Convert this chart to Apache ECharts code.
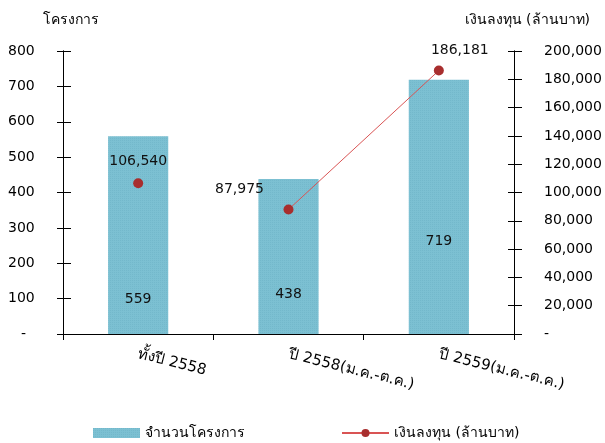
<!DOCTYPE html>
<html><head><meta charset="utf-8">
<script src="https://cdn.jsdelivr.net/npm/echarts@6/dist/echarts.min.js"></script>
<style>html,body{margin:0;padding:0;background:#fff}#c{width:605px;height:443px}</style>
</head><body><div id="c"></div>
<script>
const categories = ['ทั้งปี 2558', 'ปี 2558(ม.ค.-ต.ค.)', 'ปี 2559(ม.ค.-ต.ค.)'];
const projects = [559, 438, 719];
const investment = [106540, 87975, 186181];
const leftTicks = [0, 100, 200, 300, 400, 500, 600, 700, 800];
const rightTicks = [0, 20000, 40000, 60000, 80000, 100000, 120000, 140000, 160000, 180000, 200000];
const barName = 'จำนวนโครงการ';
const lineName = 'เงินลงทุน (ล้านบาท)';

const FONT = 'Tahoma, "DejaVu Sans", sans-serif';
const fmt = v => v === 0 ? '{d|-}' : v.toLocaleString('en-US');
const barLabelDist = [28, 33, 86];
const lineLabelCfg = [
  {position: 'top', offset: [0, 0]},
  {position: 'inside', offset: [-49, -20]},
  {position: 'inside', offset: [21, -20]}
];
const txt = {color: '#000', fontSize: 14, fontFamily: FONT};

const chart = echarts.init(document.getElementById('c'));
const yBase = (min, max, interval, pos) => ({
  type: 'value', position: pos, min, max, interval,
  splitLine: {show: false},
  axisLine: {show: true, lineStyle: {color: '#000', width: 1}},
});
const lineLabel = i => ({show: true, position: lineLabelCfg[i].position, offset: lineLabelCfg[i].offset, distance: 10,
  formatter: p => p.value.toLocaleString('en-US'), color: '#111', fontSize: 14, fontFamily: FONT});
// the reference draws no segment between the first and second points
const connected = investment.map((v, i) => i === 0 ? null : {value: v, label: lineLabel(i)});
const isolated = investment.map((v, i) => i === 0 ? {value: v, label: lineLabel(i)} : null);
const lineCommon = {
  name: lineName, type: 'line', yAxisIndex: 1,
  symbol: 'circle', symbolSize: 10, connectNulls: false,
  lineStyle: {color: '#d95454', width: 1},
  itemStyle: {color: '#a82e2e'}
};
chart.setOption({
  animation: false,
  textStyle: {fontFamily: FONT},
  grid: {left: 63, right: 91, top: 51, bottom: 109, containLabel: false},
  legend: {
    left: 88, top: 421, itemGap: 96, itemWidth: 47, itemHeight: 10,
    textStyle: Object.assign({}, txt),
    data: [{name: barName, icon: 'rect'}, lineName]
  },
  xAxis: {
    type: 'category', data: categories, boundaryGap: true,
    axisLine: {lineStyle: {color: '#000', width: 1}},
    axisTick: {show: true, length: 6, lineStyle: {color: '#000'}},
    axisLabel: Object.assign({}, txt, {rotate: -14, margin: 20, interval: 0, fontSize: 15})
  },
  yAxis: [
    Object.assign(yBase(0, 800, 100, 'left'), {
      name: 'โครงการ', nameLocation: 'end', nameGap: 24,
      nameTextStyle: Object.assign({align: 'left', padding: [0, 0, 0, -20]}, txt),
      axisTick: {show: true, length: 6, lineStyle: {color: '#000'}},
      axisLabel: Object.assign({align: 'left', margin: 55, formatter: fmt,
        rich: {d: Object.assign({padding: [0, 0, 0, 13]}, txt)}}, txt)
    }),
    Object.assign(yBase(0, 200000, 20000, 'right'), {
      name: lineName, nameLocation: 'end', nameGap: 24,
      nameTextStyle: Object.assign({align: 'right', padding: [0, -76, 0, 0]}, txt),
      axisTick: {show: true, length: 8, lineStyle: {color: '#000'}},
      axisLabel: Object.assign({align: 'left', margin: 30, formatter: fmt,
        rich: {d: Object.assign({}, txt)}}, txt)
    }),
    Object.assign(yBase(0, 800, 100, 'left'), {
      axisTick: {show: true, inside: true, length: 8, lineStyle: {color: '#000'}},
      axisLabel: {show: false}
    }),
    Object.assign(yBase(0, 200000, 20000, 'right'), {
      axisTick: {show: true, inside: true, length: 6, lineStyle: {color: '#000'}},
      axisLabel: {show: false}
    })
  ],
  series: [
    {
      name: barName, type: 'bar', yAxisIndex: 0, barWidth: '40%',
      itemStyle: {
        color: '#7cc0d2',
        decal: {symbol: 'rect', symbolSize: 0.6, dashArrayX: [1, 1], dashArrayY: [1, 1], color: 'rgba(40,120,150,0.35)', rotation: 0}
      },
      data: projects.map((v, i) => ({
        value: v,
        label: {show: true, position: 'insideBottom', distance: barLabelDist[i],
          formatter: p => p.value.toLocaleString('en-US'), color: '#111', fontSize: 14, fontFamily: FONT}
      }))
    },
    Object.assign({}, lineCommon, {data: isolated}),
    Object.assign({}, lineCommon, {data: connected})
  ]
});
</script></body></html>
